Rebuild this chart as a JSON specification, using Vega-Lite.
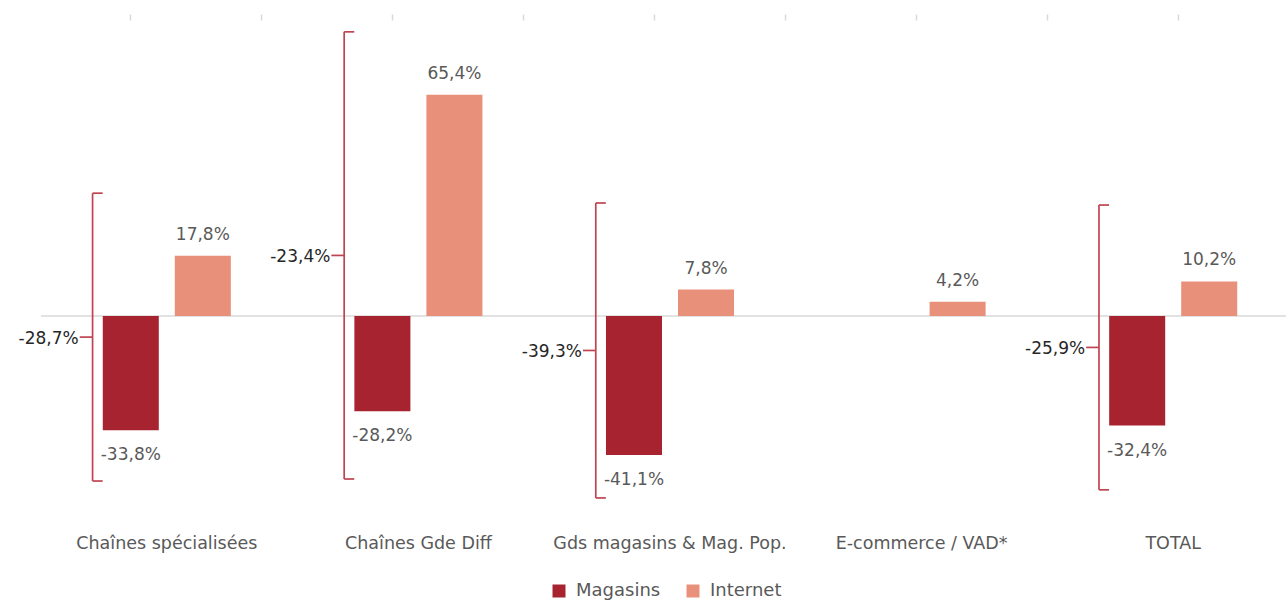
{
  "$schema": "https://vega.github.io/schema/vega-lite/v6.json",
  "width": 1258,
  "height": 482,
  "autosize": "none",
  "padding": {"left": 41, "top": 20, "right": 0, "bottom": 99},
  "config": {
    "view": {"stroke": null},
    "font": "DejaVu Sans",
    "locale": {"number": {"decimal": ",", "thousands": " ", "grouping": [3], "currency": ["", " €"], "minus": "-"}},
    "legend": {"orient": "none", "legendX": 509, "legendY": 562, "direction": "horizontal", "title": null, "symbolType": "square", "symbolSize": 169, "symbolStrokeWidth": 0, "labelFontSize": 18, "labelColor": "#595959", "labelFont": "DejaVu Sans", "columnPadding": 23, "labelOffset": 8, "padding": 0}
  },
  "datasets": {
    "bars": [
      {"cat": "Chaînes spécialisées", "serie": "Magasins", "value": -0.338},
      {"cat": "Chaînes spécialisées", "serie": "Internet", "value": 0.178},
      {"cat": "Chaînes Gde Diff", "serie": "Magasins", "value": -0.282},
      {"cat": "Chaînes Gde Diff", "serie": "Internet", "value": 0.654},
      {"cat": "Gds magasins & Mag. Pop.", "serie": "Magasins", "value": -0.411},
      {"cat": "Gds magasins & Mag. Pop.", "serie": "Internet", "value": 0.078},
      {"cat": "E-commerce / VAD*", "serie": "Internet", "value": 0.042},
      {"cat": "TOTAL", "serie": "Magasins", "value": -0.324},
      {"cat": "TOTAL", "serie": "Internet", "value": 0.102}
    ],
    "totals": [
      {"cat": "Chaînes spécialisées", "total": -0.287, "high": 0.363, "low": -0.488},
      {"cat": "Chaînes Gde Diff", "total": -0.234, "high": 0.84, "low": -0.482},
      {"cat": "Gds magasins & Mag. Pop.", "total": -0.393, "high": 0.334, "low": -0.538},
      {"cat": "TOTAL", "total": -0.259, "high": 0.328, "low": -0.514}
    ]
  },
  "layer": [
    {
      "data": {"values": [{}]},
      "mark": {"type": "rule", "color": "#D9D9D9", "strokeWidth": 1.5},
      "encoding": {
        "x": {"datum": -0.6775, "type": "quantitative", "scale": {"domain": [-0.6775, 8.926], "nice": false, "zero": false},
              "axis": {"orient": "top", "values": [0, 1, 2, 3, 4, 5, 6, 7, 8], "labels": false, "domain": false, "ticks": true, "tickColor": "#D9D9D9", "tickSize": 6, "tickWidth": 1.5, "grid": false, "title": null}},
        "x2": {"datum": 8.926},
        "y": {"datum": 0, "type": "quantitative", "scale": {"domain": [-0.55, 0.875], "nice": false, "zero": false}, "axis": null}
      }
    },
    {
      "data": {"name": "bars"},
      "mark": {"type": "bar"},
      "encoding": {
        "x": {"field": "cat", "type": "nominal", "sort": null,
              "scale": {"type": "band", "domain": ["Chaînes spécialisées", "Chaînes Gde Diff", "Gds magasins & Mag. Pop.", "E-commerce / VAD*", "TOTAL"], "paddingInner": 0, "paddingOuter": 0},
              "axis": {"title": null, "orient": "bottom", "labelAngle": 0, "labelPadding": 32, "labelFontSize": 17.5, "labelFont": "DejaVu Sans", "labelColor": "#595959", "labelLimit": 300, "domain": false, "ticks": false, "grid": false}},
        "xOffset": {"field": "serie", "type": "nominal", "scale": {"domain": ["Magasins", "Internet"], "paddingInner": 0.2222, "paddingOuter": 0.8577}},
        "y": {"field": "value", "type": "quantitative", "axis": null},
        "color": {"field": "serie", "type": "nominal", "scale": {"domain": ["Magasins", "Internet"], "range": ["#A72330", "#E8907A"]}}
      }
    },
    {
      "data": {"name": "bars"},
      "transform": [{"filter": "datum.serie === 'Internet'"}],
      "mark": {"type": "text", "align": "center", "baseline": "alphabetic", "dy": -16, "fontSize": 17, "color": "#595959", "font": "DejaVu Sans"},
      "encoding": {
        "x": {"field": "cat", "type": "nominal", "sort": null, "scale": {"type": "band", "domain": ["Chaînes spécialisées", "Chaînes Gde Diff", "Gds magasins & Mag. Pop.", "E-commerce / VAD*", "TOTAL"], "paddingInner": 0, "paddingOuter": 0}, "axis": null},
        "xOffset": {"field": "serie", "type": "nominal"},
        "y": {"field": "value", "type": "quantitative", "axis": null},
        "text": {"field": "value", "type": "quantitative", "format": ".1%"}
      }
    },
    {
      "data": {"name": "bars"},
      "transform": [{"filter": "datum.serie === 'Magasins'"}],
      "mark": {"type": "text", "align": "center", "baseline": "alphabetic", "dy": 30, "fontSize": 17, "color": "#595959", "font": "DejaVu Sans"},
      "encoding": {
        "x": {"field": "cat", "type": "nominal", "sort": null, "scale": {"type": "band", "domain": ["Chaînes spécialisées", "Chaînes Gde Diff", "Gds magasins & Mag. Pop.", "E-commerce / VAD*", "TOTAL"], "paddingInner": 0, "paddingOuter": 0}, "axis": null},
        "xOffset": {"field": "serie", "type": "nominal"},
        "y": {"field": "value", "type": "quantitative", "axis": null},
        "text": {"field": "value", "type": "quantitative", "format": ".1%"}
      }
    },
    {
      "data": {"name": "totals"},
      "mark": {"type": "rule", "color": "#BF4451", "strokeWidth": 1.7},
      "encoding": {
        "x": {"field": "cat", "type": "nominal", "sort": null, "bandPosition": 0.205, "scale": {"type": "band", "domain": ["Chaînes spécialisées", "Chaînes Gde Diff", "Gds magasins & Mag. Pop.", "E-commerce / VAD*", "TOTAL"], "paddingInner": 0, "paddingOuter": 0}, "axis": null},
        "y": {"field": "high", "type": "quantitative", "axis": null},
        "y2": {"field": "low"}
      }
    },
    {
      "data": {"name": "totals"},
      "mark": {"type": "rule", "color": "#BF4451", "strokeWidth": 1.7},
      "encoding": {
        "x": {"field": "cat", "type": "nominal", "sort": null, "bandPosition": 0.205, "scale": {"type": "band", "domain": ["Chaînes spécialisées", "Chaînes Gde Diff", "Gds magasins & Mag. Pop.", "E-commerce / VAD*", "TOTAL"], "paddingInner": 0, "paddingOuter": 0}, "axis": null},
        "x2": {"field": "cat", "bandPosition": 0.245},
        "y": {"field": "high", "type": "quantitative", "axis": null}
      }
    },
    {
      "data": {"name": "totals"},
      "mark": {"type": "rule", "color": "#BF4451", "strokeWidth": 1.7},
      "encoding": {
        "x": {"field": "cat", "type": "nominal", "sort": null, "bandPosition": 0.205, "scale": {"type": "band", "domain": ["Chaînes spécialisées", "Chaînes Gde Diff", "Gds magasins & Mag. Pop.", "E-commerce / VAD*", "TOTAL"], "paddingInner": 0, "paddingOuter": 0}, "axis": null},
        "x2": {"field": "cat", "bandPosition": 0.245},
        "y": {"field": "low", "type": "quantitative", "axis": null}
      }
    },
    {
      "data": {"name": "totals"},
      "transform": [{"calculate": "(datum.high + datum.low) / 2", "as": "mid"}],
      "mark": {"type": "rule", "color": "#BF4451", "strokeWidth": 1.7},
      "encoding": {
        "x": {"field": "cat", "type": "nominal", "sort": null, "bandPosition": 0.154, "scale": {"type": "band", "domain": ["Chaînes spécialisées", "Chaînes Gde Diff", "Gds magasins & Mag. Pop.", "E-commerce / VAD*", "TOTAL"], "paddingInner": 0, "paddingOuter": 0}, "axis": null},
        "x2": {"field": "cat", "bandPosition": 0.205},
        "y": {"field": "mid", "type": "quantitative", "axis": null}
      }
    },
    {
      "data": {"name": "totals"},
      "transform": [{"calculate": "(datum.high + datum.low) / 2", "as": "mid"}],
      "mark": {"type": "text", "align": "right", "baseline": "middle", "dx": -1, "dy": 2, "fontSize": 17, "color": "#262626", "font": "DejaVu Sans"},
      "encoding": {
        "x": {"field": "cat", "type": "nominal", "sort": null, "bandPosition": 0.154, "scale": {"type": "band", "domain": ["Chaînes spécialisées", "Chaînes Gde Diff", "Gds magasins & Mag. Pop.", "E-commerce / VAD*", "TOTAL"], "paddingInner": 0, "paddingOuter": 0}, "axis": null},
        "y": {"field": "mid", "type": "quantitative", "axis": null},
        "text": {"field": "total", "type": "quantitative", "format": ".1%"}
      }
    }
  ],
  "resolve": {"scale": {"x": "independent"}, "axis": {"x": "independent"}}
}
